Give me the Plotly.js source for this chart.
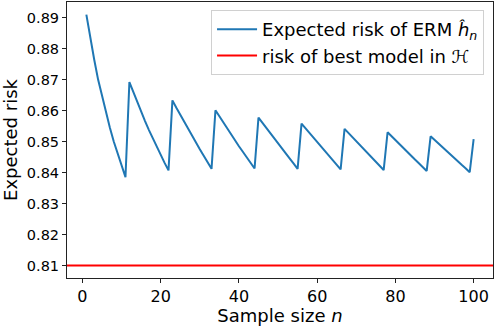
<!DOCTYPE html>
<html>
<head>
<meta charset="utf-8">
<script src="https://cdn.plot.ly/plotly-3.0.1.min.js"></script>
<style>
  html, body { margin: 0; padding: 0; background: white; }
  #chart { width: 494px; height: 326px; }
</style>
</head>
<body>
<div id="chart"></div>
<script>
var ermRisk = [
  0.8910, 0.8835, 0.8765, 0.8700, 0.8645, 0.8590, 0.8545, 0.8500, 0.8460, 0.8420, 0.8385,
  0.8692, 0.8659, 0.8627, 0.8596, 0.8566, 0.8537, 0.8509, 0.8482, 0.8456, 0.8431, 0.8407,
  0.8633, 0.8609, 0.8586, 0.8563, 0.8541, 0.8519, 0.8497, 0.8475, 0.8454, 0.8433, 0.8412,
  0.8601, 0.8581, 0.8561, 0.8542, 0.8523, 0.8504, 0.8485, 0.8467, 0.8449, 0.8431, 0.8413,
  0.8577, 0.8560, 0.8543, 0.8526, 0.8509, 0.8493, 0.8477, 0.8461, 0.8445, 0.8429, 0.8412,
  0.8558, 0.8543, 0.8528, 0.8513, 0.8498, 0.8484, 0.8469, 0.8455, 0.8440, 0.8425, 0.8410,
  0.8541, 0.8528, 0.8514, 0.8501, 0.8487, 0.8474, 0.8461, 0.8448, 0.8434, 0.8421, 0.8408,
  0.8530, 0.8517, 0.8505, 0.8492, 0.8480, 0.8467, 0.8455, 0.8442, 0.8430, 0.8417, 0.8405,
  0.8517, 0.8505, 0.8494, 0.8482, 0.8471, 0.8459, 0.8447, 0.8436, 0.8424, 0.8413, 0.8401,
  0.8508
];
var bestRisk = 0.81;
var xTicks = [0, 20, 40, 60, 80, 100];
var yTicks = [0.81, 0.82, 0.83, 0.84, 0.85, 0.86, 0.87, 0.88, 0.89];

var sampleSize = [];
for (var i = 0; i < ermRisk.length; i++) {
  sampleSize.push(i + 1);
}

var erm = {
  x: sampleSize,
  y: ermRisk,
  type: 'scatter',
  mode: 'lines',
  name: 'Expected risk of ERM <i>ĥ</i><sub><i>n</i></sub>',
  line: { color: '#1f77b4', width: 2 }
};

var best = {
  x: [-10, 120],
  y: [bestRisk, bestRisk],
  type: 'scatter',
  mode: 'lines',
  name: 'risk of best model in ℋ',
  line: { color: '#ff0000', width: 2 }
};

var axisStyle = {
  showline: true,
  mirror: true,
  linecolor: '#222',
  linewidth: 1,
  ticks: 'outside',
  ticklen: 4,
  tickcolor: '#222',
  showgrid: false,
  zeroline: false
};

var layout = {
  width: 494,
  height: 326,
  margin: { l: 67, r: 1, t: 2, b: 48 },
  paper_bgcolor: 'white',
  plot_bgcolor: 'white',
  font: { family: 'DejaVu Sans', color: 'black' },
  xaxis: Object.assign({}, axisStyle, {
    range: [-3.95, 104.95],
    tickvals: xTicks,
    tickfont: { family: 'DejaVu Sans', size: 16, color: 'black' },
    title: { text: 'Sample size <i>n</i>', font: { size: 18 }, standoff: 5 }
  }),
  yaxis: Object.assign({}, axisStyle, {
    range: [0.80595, 0.89505],
    tickvals: yTicks,
    tickformat: '.2f',
    tickfont: { family: 'DejaVu Sans', size: 14.5, color: 'black' },
    title: { text: 'Expected risk', font: { size: 18 }, standoff: 4 }
  }),
  showlegend: true,
  legend: {
    x: 0.979,
    y: 0.971,
    xanchor: 'right',
    yanchor: 'top',
    bgcolor: 'white',
    bordercolor: '#d0d0d0',
    borderwidth: 1,
    itemwidth: 40,
    font: { family: 'DejaVu Sans', size: 18, color: 'black' }
  }
};

Plotly.newPlot('chart', [erm, best], layout, { displayModeBar: false, staticPlot: true });
</script>
</body>
</html>
